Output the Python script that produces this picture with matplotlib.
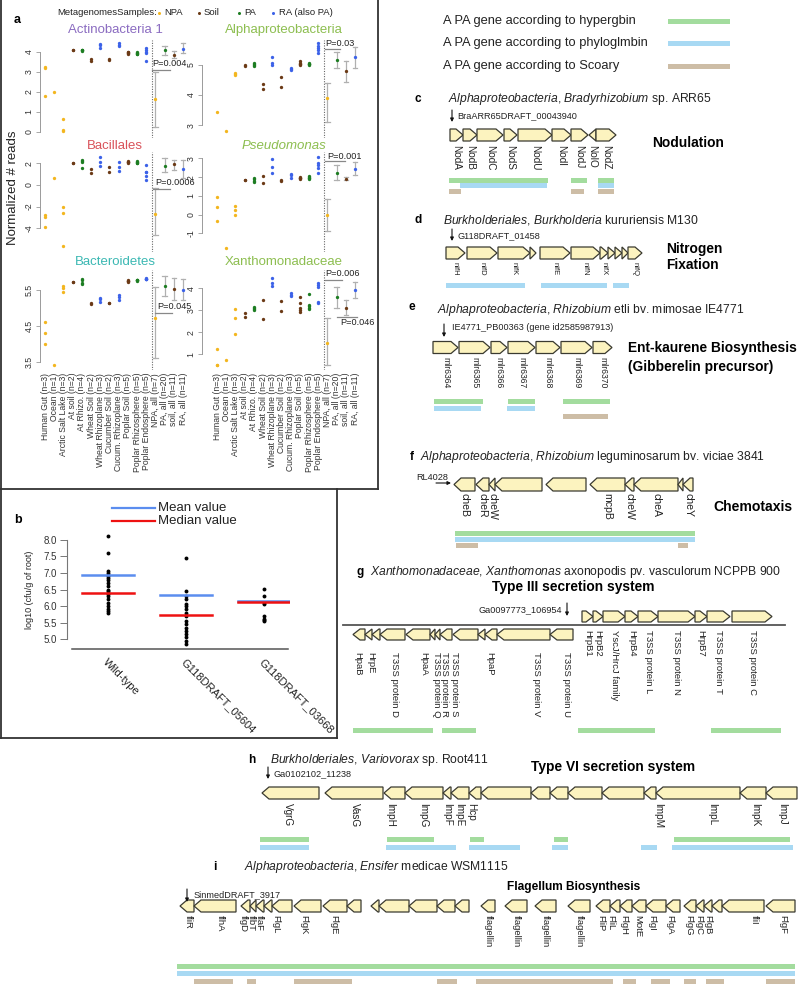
import matplotlib
matplotlib.use("Agg")
import matplotlib.pyplot as plt
from matplotlib.patches import Polygon, Rectangle

plt.rcParams['font.family'] = ['Liberation Sans', 'DejaVu Sans']
plt.rcParams['mathtext.fontset'] = 'custom'
plt.rcParams['mathtext.rm'] = 'Liberation Sans'
plt.rcParams['mathtext.it'] = 'Liberation Sans:italic'
plt.rcParams['mathtext.bf'] = 'Liberation Sans:bold'

# ---------------- panel a data ----------------
categories = ["Human Gut (n=3)", "Ocean (n=1)", "Arctic Salt Lake (n=3)", "At soil (n=2)",
              "At Rhizo. (n=4)", "Wheat Soil (n=2)", "Wheat Rhizoplane (n=3)", "Cucumber Soil (n=2)",
              "Cucum. Rhizoplane (n=3)", "Poplar Soil (n=5)", "Poplar Rhizosphere (n=5)",
              "Poplar Endosphere (n=5)"]
cat_group = ["NPA", "NPA", "NPA", "Soil", "PA", "Soil", "RA", "Soil", "RA", "Soil", "PA", "RA"]
summary_labels = ["NPA, all (n=7)", "PA, all (n=20)", "soil, all (n=11)", "RA, all (n=11)"]
summary_group = ["NPA", "PA", "Soil", "RA"]

actino_pts = [[3.27, 3.18, 1.82], [2.0], [0.63, 0.1, 0.05], [4.12, 4.08], [4.12, 4.1, 4.08, 4.06],
              [3.65, 3.57], [4.4, 4.37, 4.18], [3.67, 3.62], [4.45, 4.37, 4.28],
              [4.02, 3.98, 3.94, 3.9, 3.96], [3.98, 3.95, 3.92, 3.9, 3.93], [4.18, 4.1, 4.0, 3.97, 3.57]]
actino_mean = [1.63, 4.1, 3.85, 4.13]
actino_lo = [0.23, 3.85, 3.68, 3.93]
actino_hi = [3.0, 4.3, 4.03, 4.43]

alpha_pts = [[3.44], [2.8], [4.72, 4.7, 4.68], [5.0, 4.98], [5.08, 5.04, 5.0, 4.96], [4.37, 4.19],
             [5.26, 5.06, 5.0], [4.59, 4.26], [4.9, 4.85, 4.82], [5.12, 5.08, 5.04, 5.0, 5.02],
             [5.06, 5.04, 5.02, 5.0, 5.03], [5.72, 5.63, 5.55, 5.5, 5.39]]
alpha_mean = [3.89, 5.17, 4.8, 5.26]
alpha_lo = [3.11, 4.89, 4.44, 4.89]
alpha_hi = [4.41, 5.42, 5.13, 5.59]

bacil_pts = [[-2.77, -2.98, -3.85], [0.62], [-2.0, -2.55, -5.63], [2.02, 1.98], [2.3, 2.2, 2.08, 1.54],
             [1.45, 1.14], [2.62, 2.15, 1.75], [1.63, 1.17], [2.09, 1.63, 1.32],
             [2.22, 2.15, 2.1, 2.05, 2.12], [2.22, 2.15, 2.05, 2.0, 2.1], [1.85, 1.2, 1.15, 0.85, 0.46]]
bacil_mean = [-2.71, 1.78, 1.91, 1.45]
bacil_lo = [-4.62, 1.23, 1.38, 0.62]
bacil_hi = [-0.31, 2.46, 2.31, 2.31]

pseudo_pts = [[0.95, 0.4, -0.33], [-1.78], [0.45, 0.22, 0.0], [1.86, 1.84], [1.95, 1.88, 1.8, 1.73],
              [2.05, 1.69], [2.95, 2.55, 2.22], [1.83, 1.8], [2.18, 2.1, 1.96],
              [2.02, 1.97, 1.93, 1.88, 1.95], [2.04, 2.0, 1.95, 1.91, 1.97], [3.05, 2.73, 2.64, 2.5, 2.22]]
pseudo_mean = [0.0, 2.22, 1.89, 2.45]
pseudo_lo = [-0.87, 1.85, 1.82, 2.09]
pseudo_hi = [0.85, 2.64, 2.0, 2.82]

bact_pts = [[4.62, 4.3, 4.0], [3.43], [5.62, 5.55, 5.43], [5.73, 5.72], [5.8, 5.78, 5.68, 5.66],
            [5.14, 5.12], [5.27, 5.24, 5.18], [5.15, 5.14], [5.36, 5.3, 5.22],
            [5.78, 5.76, 5.74, 5.73, 5.75], [5.78, 5.77, 5.76, 5.78, 5.77], [5.82, 5.81, 5.8, 5.79, 5.8]]
bact_mean = [4.72, 5.62, 5.53, 5.5]
bact_lo = [3.61, 5.33, 5.22, 5.22]
bact_hi = [5.59, 5.89, 5.82, 5.79]

xan_pts = [[1.21, 0.52, 0.48], [0.73], [3.04, 2.63, 1.91], [2.89, 2.71], [3.16, 3.1, 3.05, 3.0],
           [3.47, 2.6], [4.46, 4.23, 4.11], [3.44, 2.96], [3.79, 3.72, 3.65],
           [3.62, 3.35, 3.12, 2.93, 3.0], [3.74, 3.24, 3.2, 3.09, 3.06], [4.23, 4.15, 4.08, 3.38, 3.33]]
xan_mean = [1.52, 3.59, 3.12, 3.92]
xan_lo = [0.5, 3.09, 2.78, 3.54]
xan_hi = [2.63, 4.08, 3.47, 4.3]

# p-value annotations: (text, text x, text y, line x0, line x1, line y)
actino_p = [("P=0.004", 11.63, 3.4, 11.63, 13.6, 3.1)]
alpha_p = [("P=0.03", 11.74, 5.73, 11.74, 13.4, 5.53)]
bacil_p = [("P=0.0006", 11.96, 0.18, 11.74, 13.6, -0.42)]
pseudo_p = [("P=0.001", 11.96, 3.12, 11.74, 13.9, 2.86)]
bact_p = [("P=0.045", 12.17, 5.03, 11.96, 13.8, 4.86)]
xan_p = [("P=0.006", 11.74, 4.70, 11.74, 13.6, 4.38), ("P=0.046", 13.37, 2.42, 13.04, 15.2, 2.69)]

# ---------------- panel b data ----------------
b_groups = ["Wild-type", "G118DRAFT_05604", "G118DRAFT_03668"]
b_wt = [8.13, 7.6, 7.05, 7.0, 6.95, 6.9, 6.85, 6.8, 6.7, 6.6, 6.5, 6.45, 6.4, 6.35, 6.3, 6.2,
        6.1, 6.0, 5.9, 5.85, 5.8]
b_05604 = [7.46, 6.45, 6.3, 6.2, 6.05, 6.0, 5.9, 5.8, 5.7, 5.55, 5.45, 5.35, 5.25, 5.15, 5.05,
           4.95, 4.85]
b_03668 = [6.52, 6.3, 6.1, 6.05, 5.7, 5.62, 5.58, 5.55]
b_mean = [6.95, 6.33, 6.15]
b_median = [6.4, 5.72, 6.12]

# ---------------- gene panels data ----------------
c_names = ["NodA", "NodB", "NodC", "NodS", "NodU", "NodI", "NodJ", "NolO", "NodZ"]
c_start = [450, 463, 477, 504, 518, 552, 571, 589, 596]
c_end = [463, 477, 503, 517, 552, 571, 588, 596, 616]
c_strand = [1, 1, 1, 1, 1, 1, 1, -1, 1]
c_green = [(449, 548), (571, 587), (598, 614)]
c_blue = [(460, 547), (598, 614)]
c_tan = [(449, 461), (571, 584), (598, 614)]

d_names = ["nifH", "nifD", "nifK", "", "nifE", "nifN", "nifX", "", "", "", "nifQ"]
d_start = [446, 467, 498, 530, 540, 571, 600, 608, 615, 622, 628]
d_end = [465, 497, 530, 536, 570, 600, 608, 615, 622, 628, 642]
d_strand = [1] * 11
d_blue = [(446, 525), (541, 607), (613, 629)]

e_names = ["mlr6364", "mlr6365", "mlr6366", "mlr6367", "mlr6368", "mlr6369", "mlr6370"]
e_start = [433, 459, 491, 508, 536, 561, 593]
e_end = [458, 490, 507, 535, 560, 592, 612]
e_strand = [1] * 7
e_green = [(434, 483), (508, 535), (563, 610)]
e_blue = [(434, 481), (507, 535)]
e_tan = [(563, 608)]

f_names = ["cheB", "cheR", "cheW", "", "", "mcpB", "cheW", "cheA", "", "cheY"]
f_start = [454, 476, 489, 495, 546, 590, 625, 634, 678, 683]
f_end = [475, 489, 495, 542, 586, 625, 634, 678, 683, 693]
f_strand = [-1] * 10
f_green = [(455, 695)]
f_blue = [(455, 695)]
f_tan = [(456, 478), (678, 688)]

gf_names = ["HrpB1", "HrpB2", "YscJ/HrcJ family", "HrpB4", "T3SS protein L", "T3SS protein N",
            "HrpB7", "T3SS protein T", "T3SS protein C"]
gf_start = [582, 593, 603, 625, 638, 658, 695, 707, 732]
gf_end = [593, 603, 625, 638, 658, 695, 707, 730, 772]
gr_names = ["HpaB", "HrpE", "", "T3SS protein D", "HpaA", "T3SS protein Q", "T3SS protein R", "",
            "T3SS protein S", "", "HpaP", "T3SS protein V", "T3SS protein U"]
gr_start = [353, 365, 372, 380, 406, 430, 435, 440, 453, 478, 485, 497, 550]
gr_end = [365, 372, 380, 405, 430, 435, 440, 452, 478, 485, 497, 550, 573]
gr_label_x = [358, 371, None, 395, 424, 436, 445, None, 454, None, 490, 537, 567]
g_green = [(353, 433), (442, 476), (578, 655), (711, 781)]

h_names = ["VgrG", "VasG", "ImpH", "ImpG", "ImpF", "ImpE", "Hcp", "", "", "", "", "",
           "ImpM", "ImpL", "ImpK", "ImpJ"]
h_start = [262, 325, 384, 405, 443, 451, 469, 481, 531, 550, 568, 602, 644, 656, 740, 766]
h_end = [319, 383, 405, 443, 451, 469, 481, 531, 550, 568, 602, 644, 656, 740, 766, 797]
h_strand = [-1] * 16
h_label_x = [288, 355, 390, 423, 447, 459, 471, None, None, None, None, None, 658, 712, 755, 782]
h_green = [(260, 309), (387, 434), (470, 484), (554, 568), (674, 790)]
h_blue = [(260, 309), (386, 456), (469, 520), (552, 568), (641, 657), (672, 793)]

i_names = ["fliR", "flhA", "flgD", "flbT", "flaF", "", "FlgL", "FlgK", "FlgE", "", "", "", "", "",
           "", "flagellin", "flagellin", "flagellin", "flagellin", "FliP", "FliL", "FlgH", "MotE",
           "FlgI", "FlgA", "FlgG", "FlgC", "FlgB", "", "fliI", "FlgF"]
i_start = [180, 194, 241, 250, 256, 264, 272, 294, 323, 347, 371, 379, 409, 437, 455, 481, 505,
           535, 568, 596, 610, 620, 632, 646, 666, 684, 696, 704, 712, 722, 766]
i_end = [194, 236, 250, 256, 264, 272, 292, 321, 347, 361, 379, 409, 437, 455, 469, 495, 527,
         556, 590, 610, 620, 632, 646, 666, 680, 696, 704, 712, 722, 764, 795]
i_strand = [-1] * 31
i_label_x = [188, 220, 243, 251, 259, None, 276, 304, 334, None, None, None, None, None, None,
             488, 516, 545, 579, 601, 611, 624, 638, 652, 670, 689, 699, 708, None, 754, 783]
i_green = [(177, 795)]
i_blue = [(177, 795)]
i_tan = [(194, 233), (247, 256), (294, 352), (437, 457), (476, 613), (623, 636), (651, 670),
         (684, 696), (706, 724), (766, 795)]

# ---------------- styling ----------------
W, H = 800, 986
group_color = {"NPA": "#f3b61f", "Soil": "#6b3a16", "PA": "#1d7d22", "RA": "#3c62e8"}
GREEN, BLUE, TAN = "#a3dc9e", "#a8d9f3", "#cdbda6"
GENE_FC, GENE_EC = "#fcf3bf", "#3a3a30"

fig = plt.figure(figsize=(W / 100, H / 100), dpi=100)
ov = fig.add_axes([0, 0, 1, 1])
ov.set_xlim(0, W)
ov.set_ylim(H, 0)
ov.axis('off')


def px_axes(x0, y0, x1, y1):
    ax = fig.add_axes([x0 / W, 1 - y1 / H, (x1 - x0) / W, (y1 - y0) / H])
    ax.set_facecolor('none')
    return ax


# ---------------- panel borders ----------------
for xs, ys in [([1, 1], [0, 738]), ([378, 378], [0, 489]), ([0, 378], [489, 489]),
               ([337, 337], [489, 738]), ([0, 337], [738, 738])]:
    ov.plot(xs, ys, color='#333333', lw=1.3)

# ---------------- panel a ----------------
ov.text(17, 20, "a", fontsize=9, fontweight='bold', ha='center', va='center')
ov.text(57, 12.7, "MetagenomesSamples:", fontsize=6.8, ha='left', va='center', color='#222')
for gx, tx, lab, g in [(159, 164, "NPA", "NPA"), (199, 204, "Soil", "Soil"),
                       (239, 244, "PA", "PA"), (273, 279, "RA (also PA)", "RA")]:
    ov.plot([gx], [12.7], 'o', ms=2.2, color=group_color[g], mec='none')
    ov.text(tx, 12.7, lab, fontsize=6.8, ha='left', va='center', color='#222')
ov.text(13, 188, "Normalized # reads", rotation=90, fontsize=9.5, ha='center', va='center', color='#222')

col_geom = [(40, 190, 45), (202, 365, 217)]
row_geom = [(40, 138, 30), (152, 252, 146), (270, 370, 262)]
STEP = 9.2

panels = [
    ("Actinobacteria 1", "#8b6cc1", "normal", 0, 0, actino_pts, actino_mean, actino_lo, actino_hi,
     [0, 1, 2, 3, 4], (-0.3, 4.6), actino_p),
    ("Alphaproteobacteria", "#8dbe50", "normal", 1, 0, alpha_pts, alpha_mean, alpha_lo, alpha_hi,
     [3, 4, 5], (2.57, 5.83), alpha_p),
    ("Bacillales", "#d9525a", "normal", 0, 1, bacil_pts, bacil_mean, bacil_lo, bacil_hi,
     [-4, -2, 0, 2], (-6.19, 3.04), bacil_p),
    ("Pseudomonas", "#8dbe50", "italic", 1, 1, pseudo_pts, pseudo_mean, pseudo_lo, pseudo_hi,
     [-1, 0, 1, 2, 3], (-2.0, 3.34), pseudo_p),
    ("Bacteroidetes", "#3bb8b3", "normal", 0, 2, bact_pts, bact_mean, bact_lo, bact_hi,
     [3.5, 4.5, 5.5], (3.29, 6.05), bact_p),
    ("Xanthomonadaceae", "#8dbe50", "normal", 1, 2, xan_pts, xan_mean, xan_lo, xan_hi,
     [1, 2, 3, 4], (0.27, 4.84), xan_p),
]

for (title, tcol, tstyle, col, row, pts, mean, lo, hi, ticks, ylim, pv) in panels:
    xl, xr, x0 = col_geom[col]
    yt, yb, ty = row_geom[row]
    ax = px_axes(xl, yt, xr, yb)
    ax.set_xlim((xl - x0) / STEP, (xr - x0) / STEP)
    ax.set_ylim(*ylim)
    ov.text((xl + xr) / 2, ty, title, color=tcol, fontsize=9.5, fontstyle=tstyle,
            ha='center', va='center')
    for i, vals in enumerate(pts):
        ax.plot([i] * len(vals), vals, 'o', ms=2.4, color=group_color[cat_group[i]],
                mec='none', clip_on=False)
    for j in range(4):
        pos = len(categories) + j
        ax.plot([pos, pos], [lo[j], hi[j]], color='#b0b0b0', lw=0.9, clip_on=False)
        for yy in (lo[j], hi[j]):
            ax.plot([pos - 0.25, pos + 0.25], [yy, yy], color='#b0b0b0', lw=0.9, clip_on=False)
        ax.plot([pos], [mean[j]], 'o', ms=2.4, color=group_color[summary_group[j]], mec='none',
                clip_on=False)
    ax.axvline(len(categories) - 0.4, color='#666666', ls=(0, (1, 1.3)), lw=0.8)
    for (txt, tx, tyv, lx0, lx1, ly) in pv:
        ax.text(tx, tyv, txt, fontsize=6.6, ha='left', va='center', color='#222', clip_on=False)
        ax.plot([lx0, lx1], [ly, ly], color='#888888', lw=0.9, clip_on=False)
    for s in ['top', 'right', 'bottom']:
        ax.spines[s].set_visible(False)
    ax.spines['left'].set_bounds(ticks[0], ticks[-1])
    ax.spines['left'].set_color('#9a9a9a')
    ax.spines['left'].set_linewidth(0.7)
    ax.set_yticks(ticks)
    ax.set_yticklabels([("%g" % t) for t in ticks], rotation=90, va='center')
    ax.tick_params(axis='y', length=3, width=0.6, color='#9a9a9a', labelsize=6.3,
                   labelcolor='#333', pad=1.5)
    ax.set_xticks(range(len(categories) + 4))
    if row == 2:
        ax.set_xticklabels(categories + summary_labels, rotation=90, fontsize=6.2, color='#333')
        ax.tick_params(axis='x', length=0, pad=2)
    else:
        ax.set_xticklabels([])
        ax.tick_params(axis='x', length=0)

# ---------------- panel b ----------------
ov.text(18, 520, "b", fontsize=9, fontweight='bold', ha='center', va='center')
ov.plot([112, 155], [508, 508], color='#5b8def', lw=1.6)
ov.text(158, 508, "Mean value", fontsize=9.5, ha='left', va='center', color='#222')
ov.plot([112, 155], [521, 521], color='#ee1111', lw=1.6)
ov.text(158, 521, "Median value", fontsize=9.5, ha='left', va='center', color='#222')

axb = px_axes(67, 530, 290, 649)
axb.set_xlim(-0.526, 2.33)
axb.set_ylim(4.70, 8.30)
for i, vals in enumerate([b_wt, b_05604, b_03668]):
    axb.plot([i] * len(vals), vals, 'o', ms=2.8, color='black', mec='none', clip_on=False)
    axb.plot([i - 0.33, i + 0.33], [b_mean[i], b_mean[i]], color='#5b8def', lw=1.8)
    axb.plot([i - 0.33, i + 0.33], [b_median[i], b_median[i]], color='#ee1111', lw=1.8)
for s in ['top', 'right']:
    axb.spines[s].set_visible(False)
axb.spines['left'].set_bounds(5.0, 8.0)
axb.spines['left'].set_color('#777')
axb.spines['bottom'].set_bounds(-0.46, 2.31)
axb.spines['bottom'].set_color('#555')
axb.spines['bottom'].set_linewidth(1.1)
axb.set_yticks([5.0, 5.5, 6.0, 6.5, 7.0, 7.5, 8.0])
axb.set_yticklabels(["5.0", "5.5", "6.0", "6.5", "7.0", "7.5", "8.0"])
axb.tick_params(axis='y', length=5, width=0.7, color='#777', labelsize=7, labelcolor='#333', pad=2)
axb.set_xticks([0, 1, 2])
axb.set_xticklabels(b_groups, rotation=-45, ha='left', rotation_mode='anchor', fontsize=8,
                    color='#222')
axb.tick_params(axis='x', length=0, pad=6)
axb.set_ylabel("log10 (cfu/g of root)", fontsize=6.5, color='#222', labelpad=7)

# ---------------- gene panel helpers ----------------


def gene_arrow(x0, x1, yc, strand, h=12, head=7):
    hl = min(head, x1 - x0)
    t, b = yc - h / 2, yc + h / 2
    if strand > 0:
        pts = [(x0, t), (x1 - hl, t), (x1, yc), (x1 - hl, b), (x0, b)]
    else:
        pts = [(x1, t), (x0 + hl, t), (x0, yc), (x0 + hl, b), (x1, b)]
    ov.add_patch(Polygon(pts, closed=True, fc=GENE_FC, ec=GENE_EC, lw=0.9, joinstyle='miter'))


def draw_genes(names, starts, ends, strands, yc, label_top, fs, h=12, label_x=None):
    for k, (n, s, e, d) in enumerate(zip(names, starts, ends, strands)):
        gene_arrow(s, e, yc, d, h)
        if n:
            lx = (s + e) / 2
            if label_x is not None and label_x[k] is not None:
                lx = label_x[k]
            ov.text(lx, label_top, n, rotation=-90, rotation_mode='anchor',
                    ha='left', va='center', fontsize=fs, color='#222')


def draw_bars(segs, y, color, h=5):
    for s, e in segs:
        ov.add_patch(Rectangle((s, y - h / 2), e - s, h, fc=color, ec='none'))


def down_arrow(x, y0, y1):
    ov.annotate('', xy=(x, y1), xytext=(x, y0),
                arrowprops=dict(arrowstyle='-|>', lw=0.8, color='#111', mutation_scale=5,
                                shrinkA=0, shrinkB=0))


# legend
for y, txt, colr in [(21, "A PA gene according to hypergbin", GREEN),
                     (43, "A PA gene according to phyloglmbin", BLUE),
                     (66, "A PA gene according to Scoary", TAN)]:
    ov.text(443, y, txt, fontsize=9.3, ha='left', va='center', color='#222')
    draw_bars([(668, 730)], y, colr)

TFS = 8.7
SFS = 6.6
BFS = 9.9
# c
ov.text(418, 99, "c", fontsize=8.5, fontweight='bold', ha='center', va='center')
ov.text(448, 99, r"$\mathit{Alphaproteobacteria}$, $\mathit{Bradyrhizobium}$ sp. ARR65",
        fontsize=TFS, ha='left', va='center', color='#222')
down_arrow(452, 110, 122)
ov.text(457, 116, "BraARR65DRAFT_00043940", fontsize=SFS, ha='left', va='center', color='#222')
draw_genes(c_names, c_start, c_end, c_strand, 135, 145, 7.2)
ov.text(652, 143, "Nodulation", fontsize=BFS, fontweight='bold', ha='left', va='center')
draw_bars(c_green, 180, GREEN)
draw_bars(c_blue, 185.5, BLUE)
draw_bars(c_tan, 191, TAN)

# d
ov.text(418, 220, "d", fontsize=8.5, fontweight='bold', ha='center', va='center')
ov.text(443, 220, r"$\mathit{Burkholderiales}$, $\mathit{Burkholderia}$ kururiensis M130",
        fontsize=TFS, ha='left', va='center', color='#222')
down_arrow(452, 229, 241)
ov.text(458, 236, "G118DRAFT_01458", fontsize=SFS, ha='left', va='center', color='#222')
draw_genes(d_names, d_start, d_end, d_strand, 253, 262, 5.5)
ov.text(666, 249, "Nitrogen", fontsize=BFS, fontweight='bold', ha='left', va='center')
ov.text(666, 265, "Fixation", fontsize=BFS, fontweight='bold', ha='left', va='center')
draw_bars(d_blue, 285, BLUE)

# e
ov.text(412, 307, "e", fontsize=8.5, fontweight='bold', ha='center', va='center')
ov.text(437, 310, r"$\mathit{Alphaproteobacteria}$, $\mathit{Rhizobium}$ etli bv. mimosae IE4771",
        fontsize=TFS, ha='left', va='center', color='#222')
down_arrow(444, 324, 337)
ov.text(452, 327, "IE4771_PB00363 (gene id2585987913)", fontsize=SFS, ha='left', va='center',
        color='#222')
draw_genes(e_names, e_start, e_end, e_strand, 347.5, 357, 6.2)
ov.text(628, 348, "Ent-kaurene Biosynthesis", fontsize=BFS, fontweight='bold', ha='left', va='center')
ov.text(628, 367, "(Gibberelin precursor)", fontsize=BFS, fontweight='bold', ha='left', va='center')
draw_bars(e_green, 401, GREEN)
draw_bars(e_blue, 408.5, BLUE)
draw_bars(e_tan, 416, TAN)

# f
ov.text(412, 457, "f", fontsize=8.5, fontweight='bold', ha='center', va='center')
ov.text(420, 457,
        r"$\mathit{Alphaproteobacteria}$, $\mathit{Rhizobium}$ leguminosarum bv. viciae 3841",
        fontsize=TFS, ha='left', va='center', color='#222')
ov.text(432, 477, "RL4028", fontsize=SFS, ha='center', va='center', color='#222')
ov.annotate('', xy=(451, 483), xytext=(436, 483),
            arrowprops=dict(arrowstyle='-|>', lw=0.8, color='#111', mutation_scale=5,
                            shrinkA=0, shrinkB=0))
draw_genes(f_names, f_start, f_end, f_strand, 484.5, 493, 7.6, h=13)
ov.text(713, 507, "Chemotaxis", fontsize=10.1, fontweight='bold', ha='left', va='center')
draw_bars(f_green, 533, GREEN)
draw_bars(f_blue, 539, BLUE)
draw_bars(f_tan, 545, TAN)

# g
ov.text(360, 572, "g", fontsize=8.5, fontweight='bold', ha='center', va='center')
ov.text(370, 572,
        r"$\mathit{Xanthomonadaceae}$, $\mathit{Xanthomonas}$ axonopodis pv. vasculorum NCPPB 900",
        fontsize=TFS, ha='left', va='center', color='#222')
ov.text(573, 587, "Type III secretion system", fontsize=BFS, fontweight='bold', ha='center',
        va='center')
ov.text(562, 610, "Ga0097773_106954", fontsize=SFS, ha='right', va='center', color='#222')
down_arrow(567, 603, 616)
ov.plot([343, 785], [625, 625], color='#555', lw=1.3)
draw_genes(gf_names, gf_start, gf_end, [1] * len(gf_names), 616.5, 630, 6.8, h=11)
draw_genes(gr_names, gr_start, gr_end, [-1] * len(gr_names), 634.5, 652, 6.8, h=11,
           label_x=gr_label_x)
draw_bars(g_green, 730, GREEN)

# h
ov.text(252, 760, "h", fontsize=8.5, fontweight='bold', ha='center', va='center')
ov.text(270, 760, r"$\mathit{Burkholderiales}$, $\mathit{Variovorax}$ sp. Root411",
        fontsize=TFS, ha='left', va='center', color='#222')
ov.text(613, 767, "Type VI secretion system", fontsize=BFS, fontweight='bold', ha='center',
        va='center')
down_arrow(268, 767, 779)
ov.text(274, 774, "Ga0102102_11238", fontsize=SFS, ha='left', va='center', color='#222')
draw_genes(h_names, h_start, h_end, h_strand, 793, 803, 7.2, h=12, label_x=h_label_x)
draw_bars(h_green, 839, GREEN)
draw_bars(h_blue, 847, BLUE)

# i
ov.text(215, 867, "i", fontsize=8.5, fontweight='bold', ha='center', va='center')
ov.text(244, 867, r"$\mathit{Alphaproteobacteria}$, $\mathit{Ensifer}$ medicae WSM1115",
        fontsize=TFS, ha='left', va='center', color='#222')
ov.text(574, 887, "Flagellum Biosynthesis", fontsize=8.6, fontweight='bold', ha='center',
        va='center')
down_arrow(187, 889, 902)
ov.text(194, 895, "SinmedDRAFT_3917", fontsize=SFS, ha='left', va='center', color='#222')
draw_genes(i_names, i_start, i_end, i_strand, 906, 915, 6.8, h=12, label_x=i_label_x)
draw_bars(i_green, 966, GREEN)
draw_bars(i_blue, 973, BLUE)
draw_bars(i_tan, 981, TAN)

fig.savefig("out.png", dpi=100)
